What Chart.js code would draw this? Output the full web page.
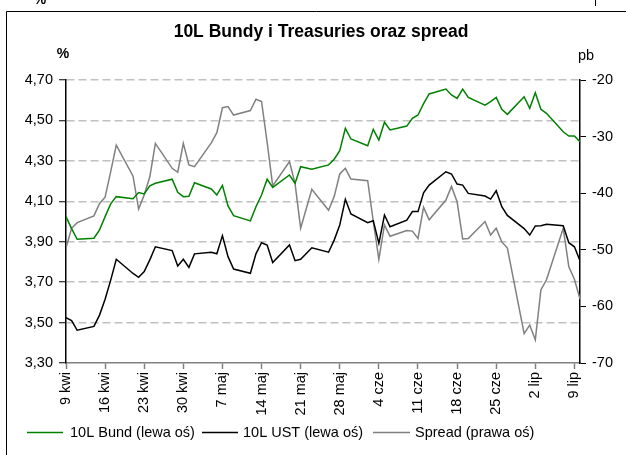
<!DOCTYPE html>
<html><head><meta charset="utf-8">
<script src="https://cdn.jsdelivr.net/npm/chart.js@4/dist/chart.umd.min.js"></script>
<style>html,body{margin:0;padding:0;background:#fff;overflow:hidden}canvas{display:block}</style>
</head><body><canvas id="c" width="626" height="455"></canvas>
<script>
// ---- data ----
const dates = ['2008-04-09','2008-04-10','2008-04-11','2008-04-14','2008-04-15','2008-04-16','2008-04-17','2008-04-18',
 '2008-04-21','2008-04-22','2008-04-23','2008-04-24','2008-04-25','2008-04-28','2008-04-29','2008-04-30','2008-05-01','2008-05-02',
 '2008-05-05','2008-05-06','2008-05-07','2008-05-08','2008-05-09','2008-05-12','2008-05-13','2008-05-14','2008-05-15','2008-05-16',
 '2008-05-19','2008-05-20','2008-05-21','2008-05-23','2008-05-26','2008-05-27','2008-05-28','2008-05-29','2008-05-30',
 '2008-06-02','2008-06-03','2008-06-04','2008-06-05','2008-06-06','2008-06-09','2008-06-10','2008-06-11','2008-06-12','2008-06-13',
 '2008-06-16','2008-06-17','2008-06-18','2008-06-19','2008-06-20','2008-06-23','2008-06-24','2008-06-25','2008-06-26','2008-06-27',
 '2008-06-30','2008-07-01','2008-07-02','2008-07-03','2008-07-04','2008-07-07','2008-07-08','2008-07-09','2008-07-10'];
const bund = [4.024,3.965,3.912,3.917,3.958,4.024,4.087,4.123,
 4.113,4.143,4.136,4.176,4.189,4.209,4.144,4.123,4.125,4.192,
 4.161,4.131,4.179,4.077,4.029,4.003,4.073,4.131,4.209,4.169,
 4.230,4.189,4.271,4.258,4.280,4.308,4.350,4.461,4.408,
 4.375,4.456,4.403,4.491,4.453,4.472,4.510,4.527,4.583,4.631,
 4.655,4.626,4.609,4.655,4.614,4.576,4.593,4.614,4.555,4.530,
 4.617,4.560,4.637,4.555,4.535,4.444,4.423,4.423,4.395];
const ust = [3.524,3.510,3.462,3.481,3.537,3.615,3.710,3.813,
 3.743,3.724,3.752,3.810,3.875,3.856,3.780,3.813,3.773,3.840,
 3.848,3.840,3.930,3.826,3.765,3.744,3.840,3.895,3.884,3.797,
 3.884,3.806,3.813,3.870,3.848,3.908,3.983,4.110,4.037,
 3.994,4.004,3.892,4.032,3.974,4.007,4.049,4.049,4.142,4.180,
 4.246,4.235,4.185,4.180,4.139,4.126,4.111,4.152,4.073,4.030,
 3.965,3.933,3.978,3.979,3.986,3.979,3.895,3.875,3.806];
const spread = [-49.7,-46.2,-45.2,-44.0,-41.8,-40.7,-36.2,-31.5,
 -37.0,-42.8,-40.3,-37.1,-31.2,-35.6,-36.3,-31.2,-35.0,-35.3,
 -31.1,-29.3,-24.9,-24.7,-26.2,-25.4,-23.4,-23.8,-31.0,-38.7,
 -34.4,-38.3,-46.2,-39.3,-43.0,-40.6,-36.6,-35.6,-37.5,
 -37.8,-45.0,-51.7,-45.6,-47.6,-46.6,-46.7,-48.0,-42.5,-44.7,
 -41.2,-38.8,-41.5,-48.1,-48.0,-45.0,-47.4,-46.2,-48.6,-49.7,
 -64.8,-63.3,-65.9,-57.1,-55.3,-46.2,-53.0,-55.2,-58.7];
const xTickDates = ['2008-04-09','2008-04-16','2008-04-23','2008-04-30','2008-05-07','2008-05-14','2008-05-21',
 '2008-05-28','2008-06-04','2008-06-11','2008-06-18','2008-06-25','2008-07-02','2008-07-09'];
const xTickLabels = ['9 kwi','16 kwi','23 kwi','30 kwi','7 maj','14 maj','21 maj','28 maj','4 cze','11 cze','18 cze','25 cze','2 lip','9 lip'];
const leftTicks = [3.3,3.5,3.7,3.9,4.1,4.3,4.5,4.7];
const leftTickLabels = ['3,30','3,50','3,70','3,90','4,10','4,30','4,50','4,70'];
const rightTicks = [-70,-60,-50,-40,-30,-20];
const rightTickLabels = ['-70','-60','-50','-40','-30','-20'];
const seriesNames = ['10L Bund (lewa oś)','10L UST (lewa oś)','Spread (prawa oś)'];
const titleText = '10L Bundy i Treasuries oraz spread';

// ---- build ----
const FONT = "'Liberation Sans', Arial, sans-serif";
const day0 = Date.parse(dates[0]);
const off = d => Math.round((Date.parse(d) - day0) / 86400000);
const pts = arr => dates.map((d, i) => ({x: off(d), y: arr[i]}));

const decor = {
  id: 'decor',
  afterDraw(chart) {
    const ctx = chart.ctx;
    ctx.save();
    // frame
    ctx.strokeStyle = '#000'; ctx.lineWidth = 1;
    ctx.beginPath(); ctx.moveTo(6.5, 455); ctx.lineTo(6.5, 11.5); ctx.lineTo(626, 11.5); ctx.stroke();
    // remnants of upper chart
    ctx.fillStyle = '#000';
    ctx.font = "bold 14px " + FONT; ctx.textAlign = 'center'; ctx.textBaseline = 'alphabetic';
    ctx.fillText('%', 40, 4);
    ctx.beginPath(); ctx.moveTo(595.5, 0); ctx.lineTo(595.5, 6); ctx.stroke();
    // title
    ctx.font = "bold 17.5px " + FONT; ctx.textAlign = 'center'; ctx.textBaseline = 'middle';
    ctx.fillText(titleText, 321, 32);
    // axis units
    ctx.font = "bold 14px " + FONT;
    ctx.fillText('%', 63, 54);
    ctx.font = "14.5px " + FONT;
    ctx.fillText('pb', 586, 56);
    // legend
    const items = [[27, 63, 70], [202, 238, 243], [373, 410, 415]];
    ctx.font = "14.5px " + FONT; ctx.textAlign = 'left';
    chart.data.datasets.forEach((ds, i) => {
      const [a, b, t] = items[i];
      ctx.strokeStyle = ds.borderColor; ctx.lineWidth = 1.5;
      ctx.beginPath(); ctx.moveTo(a, 432.5); ctx.lineTo(b, 432.5); ctx.stroke();
      ctx.fillStyle = '#000';
      ctx.fillText(ds.label, t, 433);
    });
    ctx.restore();
  }
};

new Chart(document.getElementById('c'), {
  type: 'line',
  data: {
    datasets: [
      {label: seriesNames[0], data: pts(bund), borderColor: '#008000', yAxisID: 'y'},
      {label: seriesNames[1], data: pts(ust), borderColor: '#000000', yAxisID: 'y'},
      {label: seriesNames[2], data: pts(spread), borderColor: '#808080', yAxisID: 'y2'}
    ].map(d => Object.assign(d, {borderWidth: 1.5, pointRadius: 0, tension: 0, fill: false, spanGaps: true}))
  },
  options: {
    responsive: false, animation: false, devicePixelRatio: 1,
    layout: {padding: {top: 80, left: 0, right: 0, bottom: 0}},
    plugins: {legend: {display: false}, tooltip: {enabled: false}},
    scales: {
      x: {
        type: 'linear', position: 'bottom', min: 0, max: off(dates[dates.length - 1]),
        afterBuildTicks: s => { s.ticks = xTickDates.map(d => ({value: off(d)})); },
        afterFit: s => { s.height = 92; },
        ticks: {callback: (v, i) => xTickLabels[i], minRotation: 90, maxRotation: 90, autoSkip: false,
                color: '#000', font: {family: FONT, size: 14.5}, padding: 3},
        grid: {drawOnChartArea: false, drawTicks: true, tickLength: 6, tickColor: '#808080', tickWidth: 1.5},
        border: {color: '#808080', width: 1.5}
      },
      y: {
        type: 'linear', position: 'left', min: 3.3, max: 4.7,
        afterBuildTicks: s => { s.ticks = leftTicks.map(v => ({value: v})); },
        afterFit: s => { s.width = 66; },
        ticks: {callback: (v, i) => leftTickLabels[i], color: '#000', font: {family: FONT, size: 14.5}, padding: 6},
        grid: {color: c => c.index === 0 ? 'rgba(0,0,0,0)' : '#c0c0c0', lineWidth: 1.5,
               tickBorderDash: [], tickColor: '#000', tickWidth: 1, tickLength: 7},
        border: {color: '#000', width: 1.5, dash: [8, 4]}
      },
      y2: {
        type: 'linear', position: 'right', min: -70, max: -20,
        afterBuildTicks: s => { s.ticks = rightTicks.map(v => ({value: v})); },
        afterFit: s => { s.width = 46; },
        ticks: {callback: (v, i) => rightTickLabels[i], color: '#000', font: {family: FONT, size: 14.5}, padding: 6},
        grid: {drawOnChartArea: false, tickColor: '#000', tickWidth: 1, tickLength: 6},
        border: {color: '#000', width: 1.5}
      }
    }
  },
  plugins: [decor]
});
</script></body></html>
